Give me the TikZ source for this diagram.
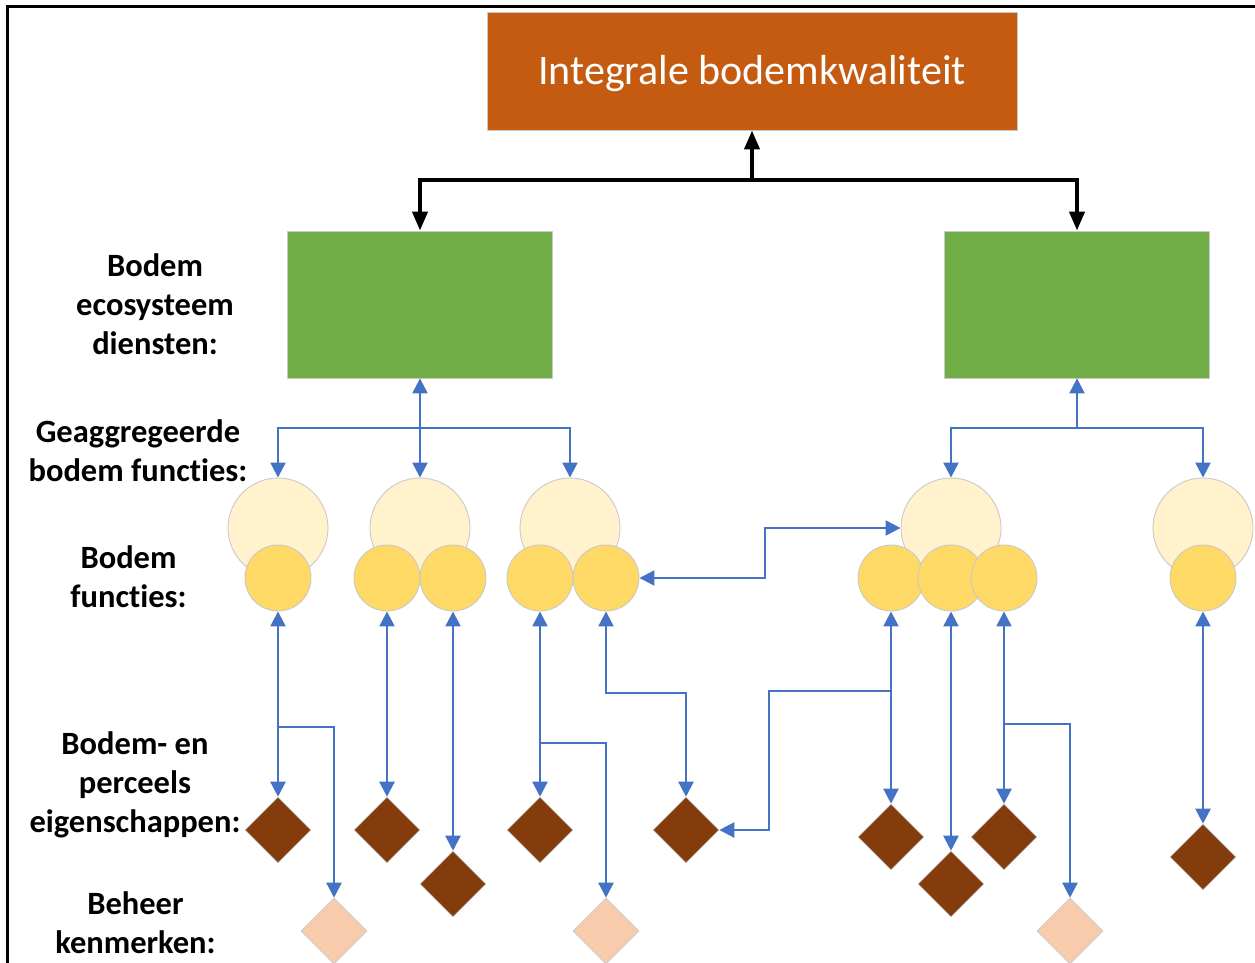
\documentclass[tikz,border=0pt]{standalone}
\usepackage{fontspec}
\setmainfont[Ligatures=NoCommon]{Carlito}
\usetikzlibrary{shapes.geometric,arrows.meta,calc}
\definecolor{orng}{HTML}{C55A11}
\definecolor{grn}{HTML}{70AD47}
\definecolor{lyel}{HTML}{FFF2CC}
\definecolor{yel}{HTML}{FFD966}
\definecolor{blu}{HTML}{4472C4}
\definecolor{brwn}{HTML}{843C0C}
\definecolor{peach}{HTML}{F8CBAD}
\definecolor{bord}{HTML}{C9C9C9}
\begin{document}
\begin{tikzpicture}[x=1pt,y=-1pt,
  lbl/.style={font=\bfseries\fontsize{32.5}{39}\selectfont, align=center, inner sep=0pt},
  titlebox/.style={rectangle, fill=orng, draw=bord, line width=0.8pt, minimum width=530pt, minimum height=118pt, inner sep=0pt, text=white, font=\fontsize{42}{50}\selectfont},
  svcbox/.style={rectangle, fill=grn, draw=bord, line width=0.8pt, minimum width=265pt, minimum height=147pt, inner sep=0pt},
  bigc/.style={circle, draw=bord, line width=0.9pt, fill=lyel, minimum size=100pt, inner sep=0pt},
  smc/.style={circle, draw=bord, line width=0.9pt, fill=yel, minimum size=66pt, inner sep=0pt},
  prop/.style={diamond, aspect=1, fill=brwn, draw=bord, line width=0.6pt, minimum size=66pt, inner sep=0pt},
  mgmt/.style={diamond, aspect=1, fill=peach, draw=bord, line width=0.6pt, minimum size=66pt, inner sep=0pt},
  blk/.style={draw=black, line width=4pt, >={Triangle[length=19pt,width=15pt]}},
  barr/.style={draw=blu, line width=2.4pt, >={Triangle[length=15pt,width=15pt]}}
]
\useasboundingbox (0,0) rectangle (1255,963);
% frame
\draw[line width=3pt] (7,963) -- (7,7) -- (1256,7);

% top boxes
\node[titlebox] (top) at (752,71) {};
\node[text=white, font=\fontsize{42}{50}\selectfont, inner sep=0pt] (ttl) at (752,74) {Integrale bodemkwaliteit};
\node[svcbox] (g1) at (420,304.5) {};
\node[svcbox] (g2) at (1077,304.5) {};

% labels
\node[lbl] (l1) at (155,304) {Bodem\\ecosysteem\\diensten:};
\node[lbl] (l2) at (138,451) {Geaggregeerde\\bodem functies:};
\node[lbl] (l3) at (128.5,577) {Bodem\\functies:};
\node[lbl] (l4) at (135,785) {Bodem- en\\perceels\\eigenschappen:};
\node[lbl] (l5) at (135.5,923) {Beheer\\kenmerken:};

% aggregated functions
\node[bigc] (a1) at (278,528) {};
\node[bigc] (a2) at (420,528) {};
\node[bigc] (a3) at (570,528) {};
\node[bigc] (a4) at (951,528) {};
\node[bigc] (a5) at (1203,528) {};

% soil functions
\node[smc] (f1) at (278,578) {};
\node[smc] (f2) at (387,578) {};
\node[smc] (f3) at (453,578) {};
\node[smc] (f4) at (540,578) {};
\node[smc] (f5) at (606,578) {};
\node[smc] (f6) at (891,578) {};
\node[smc] (f7) at (951,578) {};
\node[smc] (f8) at (1004,578) {};
\node[smc] (f9) at (1203,578) {};

% properties
\node[prop] (d1) at (278,830) {};
\node[prop] (d2) at (387,830) {};
\node[prop] (d3) at (453,884) {};
\node[prop] (d4) at (540,830) {};
\node[prop] (d5) at (686,830) {};
\node[prop] (d6) at (891,837) {};
\node[prop] (d7) at (951,884) {};
\node[prop] (d8) at (1004,837) {};
\node[prop] (d9) at (1203,857) {};

% management
\node[mgmt] (b1) at (334,931) {};
\node[mgmt] (b2) at (606,931) {};
\node[mgmt] (b3) at (1070,931) {};

% black connectors
\coordinate (kj) at (752,180);
\draw[blk,<-] (top) -- (kj);
\draw[blk,->] (kj) -| (g1);
\draw[blk,->] (kj) -| (g2);

% blue upper
\coordinate (lj) at (420,428);
\draw[barr,<->] (g1) -- (a2);
\draw[barr,->] (lj) -| (a1);
\draw[barr,->] (lj) -| (a3);
\coordinate (rj) at (1077,428);
\draw[barr,<-] (g2) -- (rj);
\draw[barr,->] (rj) -| (a4);
\draw[barr,->] (rj) -| (a5);

% function to aggregated
\coordinate (k1) at (765,578);
\coordinate (k2) at (765,528);
\draw[barr,<->] (f5) -- (k1) -- (k2) -- (a4);

% lower
\draw[barr,<->] (f1) -- (d1);
\coordinate (j1) at (278,727);
\draw[barr,->] (j1) -| (b1);
\draw[barr,<->] (f2) -- (d2);
\draw[barr,<->] (f3) -- (d3);
\draw[barr,<->] (f4) -- (d4);
\coordinate (j4) at (540,743);
\draw[barr,->] (j4) -| (b2);
\coordinate (j5) at (606,693);
\draw[barr,<->] (f5) -- (j5) -| (d5);
\draw[barr,<->] (f6) -- (d6);
\coordinate (j6) at (891,691);
\coordinate (k3) at (769,691);
\draw[barr,->] (j6) -- (k3) |- (d5);
\draw[barr,<->] (f7) -- (d7);
\draw[barr,<->] (f8) -- (d8);
\coordinate (j8) at (1004,724);
\draw[barr,->] (j8) -| (b3);
\draw[barr,<->] (f9) -- (d9);
\end{tikzpicture}
\end{document}
